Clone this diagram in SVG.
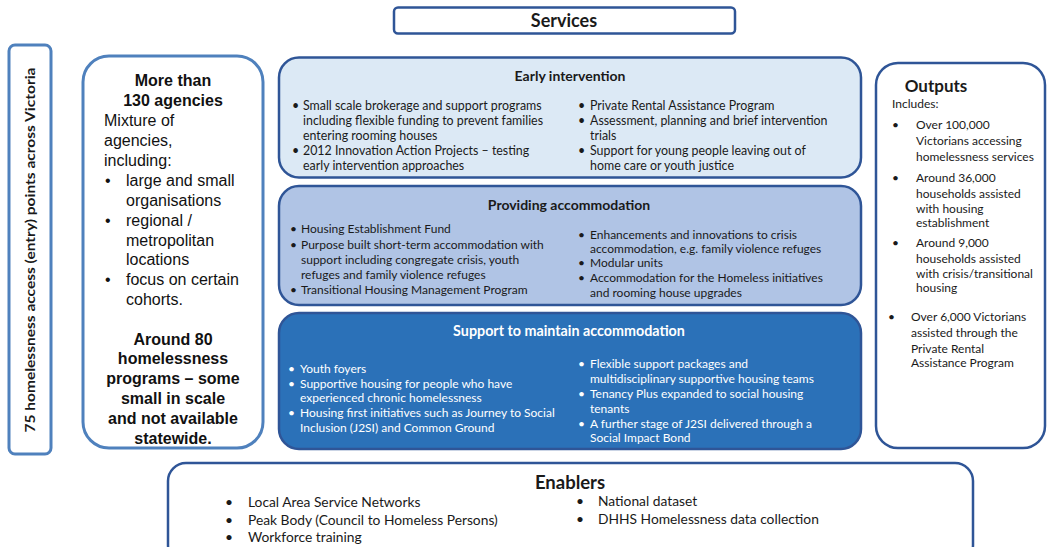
<svg xmlns="http://www.w3.org/2000/svg" width="1049" height="547" viewBox="0 0 1049 547">
<style>
.dk{fill:#fff;stroke:#2f5597;stroke-width:2.5}
.lt{fill:#fff;stroke:#4f81bd;stroke-width:3}
.c{font-family:Lato,"Open Sans","Liberation Sans",sans-serif;font-size:12px;fill:#1a1a1a}
.ce{font-family:Lato,"Open Sans","Liberation Sans",sans-serif;font-size:12.4px;fill:#1a1a1a}
.cw{font-family:Lato,"Open Sans","Liberation Sans",sans-serif;font-size:12px;fill:#fff}
.cb{font-family:Lato,"Open Sans","Liberation Sans",sans-serif;font-weight:bold;fill:#1a1a1a}
.a{font-family:"Liberation Sans",Arial,sans-serif;font-size:16px;fill:#111}
.ab{font-family:"Liberation Sans",Arial,sans-serif;font-size:16px;font-weight:bold;fill:#111;text-anchor:middle}
.e{font-family:Lato,"Open Sans","Liberation Sans",sans-serif;font-size:13.8px;fill:#1a1a1a}
.mid{text-anchor:middle}
</style>
<rect width="1049" height="547" fill="#fff"/>

<g id="services">
<rect class="dk" x="394" y="7.5" width="341" height="26" rx="4"/>
<text class="cb mid" x="564" y="27" font-size="18">Services</text>
</g>

<g id="access-points">
<rect class="lt" x="9" y="45" width="42" height="409" rx="6" stroke-width="2.5"/>
<text class="cb mid" transform="translate(35,250) rotate(-90)" font-size="14" textLength="365" lengthAdjust="spacingAndGlyphs">75 homelessness access (entry) points across Victoria</text>
</g>

<g id="agencies">
<rect class="lt" x="83" y="56" width="180" height="392" rx="26"/>
<text class="ab" x="173" y="86">More than</text>
<text class="ab" x="173" y="106">130 agencies</text>
<text class="a" x="104" y="126">Mixture of</text>
<text class="a" x="104" y="146">agencies,</text>
<text class="a" x="104" y="166">including:</text>
<text class="a" x="105" y="186">•</text><text class="a" x="126" y="186">large and small</text>
<text class="a" x="126" y="206">organisations</text>
<text class="a" x="105" y="226">•</text><text class="a" x="126" y="226">regional /</text>
<text class="a" x="126" y="246">metropolitan</text>
<text class="a" x="126" y="265">locations</text>
<text class="a" x="105" y="285">•</text><text class="a" x="126" y="285">focus on certain</text>
<text class="a" x="126" y="305">cohorts.</text>
<text class="ab" x="173" y="345">Around 80</text>
<text class="ab" x="173" y="364">homelessness</text>
<text class="ab" x="173" y="384">programs – some</text>
<text class="ab" x="173" y="404">small in scale</text>
<text class="ab" x="173" y="424">and not available</text>
<text class="ab" x="173" y="444">statewide.</text>
</g>

<g id="early-intervention">
<rect x="279" y="57.5" width="582" height="120" rx="20" fill="#dce9f5" stroke="#2f5597" stroke-width="2.5"/>
<text class="cb mid" x="570" y="81" font-size="14">Early intervention</text>
<text class="ce" x="292" y="110">•</text><text class="ce" x="303" y="110">Small scale brokerage and support programs</text>
<text class="ce" x="303" y="125">including flexible funding to prevent families</text>
<text class="ce" x="303" y="140">entering rooming houses</text>
<text class="ce" x="292" y="155">•</text><text class="ce" x="303" y="155">2012 Innovation Action Projects – testing</text>
<text class="ce" x="303" y="170">early intervention approaches</text>
<text class="ce" x="578" y="110">•</text><text class="ce" x="590" y="110">Private Rental Assistance Program</text>
<text class="ce" x="578" y="125">•</text><text class="ce" x="590" y="125">Assessment, planning and brief intervention</text>
<text class="ce" x="590" y="140">trials</text>
<text class="ce" x="578" y="155">•</text><text class="ce" x="590" y="155">Support for young people leaving out of</text>
<text class="ce" x="590" y="170">home care or youth justice</text>
</g>

<g id="providing-accommodation">
<rect x="279" y="186" width="582" height="119" rx="20" fill="#b0c4e5" stroke="#2f5597" stroke-width="2.5"/>
<text class="cb mid" x="569" y="210" font-size="14">Providing accommodation</text>
<text class="c" x="290" y="233">•</text><text class="c" x="301" y="233">Housing Establishment Fund</text>
<text class="c" x="290" y="249">•</text><text class="c" x="301" y="249">Purpose built short-term accommodation with</text>
<text class="c" x="301" y="264">support including congregate crisis, youth</text>
<text class="c" x="301" y="279">refuges and family violence refuges</text>
<text class="c" x="290" y="294">•</text><text class="c" x="301" y="294">Transitional Housing Management Program</text>
<text class="c" x="578" y="239">•</text><text class="c" x="590" y="239">Enhancements and innovations to crisis</text>
<text class="c" x="590" y="252.5">accommodation, e.g. family violence refuges</text>
<text class="c" x="578" y="267">•</text><text class="c" x="590" y="267">Modular units</text>
<text class="c" x="578" y="282">•</text><text class="c" x="590" y="282">Accommodation for the Homeless initiatives</text>
<text class="c" x="590" y="297">and rooming house upgrades</text>
</g>

<g id="support-accommodation">
<rect x="279" y="313" width="582" height="136" rx="20" fill="#2b71b8" stroke="#2f5597" stroke-width="2.5"/>
<text class="cb mid" x="569" y="336" font-size="14.3" style="fill:#fff">Support to maintain accommodation</text>
<text class="cw" x="288" y="373">•</text><text class="cw" x="300" y="373">Youth foyers</text>
<text class="cw" x="288" y="388">•</text><text class="cw" x="300" y="388">Supportive housing for people who have</text>
<text class="cw" x="300" y="402">experienced chronic homelessness</text>
<text class="cw" x="288" y="417">•</text><text class="cw" x="300" y="417">Housing first initiatives such as Journey to Social</text>
<text class="cw" x="300" y="432">Inclusion (J2SI) and Common Ground</text>
<text class="cw" x="578" y="368">•</text><text class="cw" x="590" y="368">Flexible support packages and</text>
<text class="cw" x="590" y="383">multidisciplinary supportive housing teams</text>
<text class="cw" x="578" y="398">•</text><text class="cw" x="590" y="398">Tenancy Plus expanded to social housing</text>
<text class="cw" x="590" y="413">tenants</text>
<text class="cw" x="578" y="428">•</text><text class="cw" x="590" y="428">A further stage of J2SI delivered through a</text>
<text class="cw" x="590" y="442">Social Impact Bond</text>
</g>

<g id="outputs">
<rect class="dk" x="876" y="63" width="169" height="385" rx="22"/>
<text class="cb mid" x="936" y="92" font-size="17">Outputs</text>
<text class="c" x="892" y="108">Includes:</text>
<text class="c" x="892" y="129">•</text><text class="c" x="916" y="129">Over 100,000</text>
<text class="c" x="916" y="145">Victorians accessing</text>
<text class="c" x="916" y="161">homelessness services</text>
<text class="c" x="892" y="182">•</text><text class="c" x="916" y="182">Around 36,000</text>
<text class="c" x="916" y="198">households assisted</text>
<text class="c" x="916" y="213">with housing</text>
<text class="c" x="916" y="226.5">establishment</text>
<text class="c" x="892" y="247">•</text><text class="c" x="916" y="247">Around 9,000</text>
<text class="c" x="916" y="263">households assisted</text>
<text class="c" x="916" y="278">with crisis/transitional</text>
<text class="c" x="916" y="292">housing</text>
<text class="c" x="888" y="321">•</text><text class="c" x="911" y="321">Over 6,000 Victorians</text>
<text class="c" x="911" y="337">assisted through the</text>
<text class="c" x="911" y="353">Private Rental</text>
<text class="c" x="911" y="367">Assistance Program</text>
</g>

<g id="enablers">
<rect class="dk" x="168" y="463" width="805" height="100" rx="18"/>
<text class="cb mid" x="570" y="488.5" font-size="18.5">Enablers</text>
<text class="e" x="225" y="507">•</text><text class="e" x="248" y="507">Local Area Service Networks</text>
<text class="e" x="225" y="525">•</text><text class="e" x="248" y="525">Peak Body (Council to Homeless Persons)</text>
<text class="e" x="225" y="542">•</text><text class="e" x="248" y="542">Workforce training</text>
<text class="e" x="576" y="506">•</text><text class="e" x="598" y="506">National dataset</text>
<text class="e" x="576" y="524">•</text><text class="e" x="598" y="524">DHHS Homelessness  data collection</text>
</g>

<g id="connectors"></g>
</svg>
